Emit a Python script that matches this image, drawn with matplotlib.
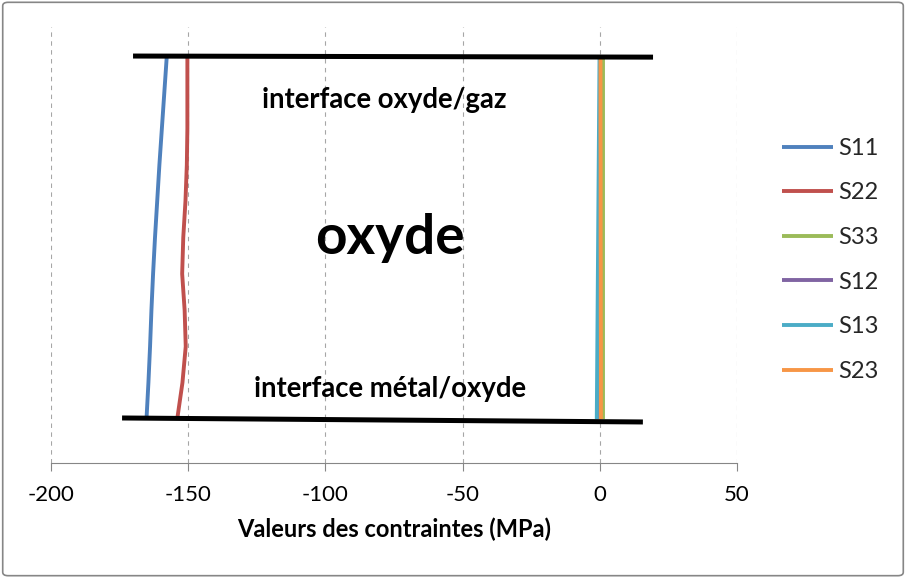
import matplotlib
matplotlib.use("Agg")
import matplotlib.pyplot as plt
from matplotlib.patches import FancyBboxPatch

# depth positions through the oxide layer (0 = metal side, 10 = gas side)
depth = [0, 1, 2, 3, 4, 5, 6, 7, 8, 9, 10]

s11 = [-165.2, -164.5, -163.9, -163.4, -162.8, -162.1, -161.3, -160.5, -159.6, -158.7, -157.8]
s22 = [-154.0, -152.1, -150.9, -151.3, -152.2, -151.8, -151.0, -150.5, -150.3, -150.3, -150.3]
s33 = [1.3, 1.3, 1.3, 1.3, 1.3, 1.3, 1.3, 1.3, 1.3, 1.3, 1.3]
s12 = [0.0, 0.0, 0.0, 0.0, 0.0, 0.0, 0.0, 0.0, 0.0, 0.0, 0.0]
s13 = [-1.1, -1.0, -0.9, -0.8, -0.7, -0.6, -0.5, -0.4, -0.3, -0.2, -0.1]
s23 = [0.4, 0.4, 0.4, 0.35, 0.35, 0.3, 0.3, 0.3, 0.25, 0.25, 0.25]

series = [("S11", s11, "#4F81BD"), ("S22", s22, "#C0504D"), ("S33", s33, "#9BBB59"),
          ("S12", s12, "#8064A2"), ("S13", s13, "#4BACC6"), ("S23", s23, "#F79646")]

# interface markers (x ends, y ends)
gas_x = [-170.1, 19.4]
gas_y = [10.0, 9.97]
metal_x = [-174.1, 15.7]
metal_y = [0.03, -0.08]

xticks = [-200, -150, -100, -50, 0, 50]

fig = plt.figure(figsize=(9.06, 5.78), dpi=100)
ax = fig.add_axes([51 / 906, 115 / 578, 686 / 906, 436 / 578])

for name, vals, col in series:
    ax.plot(vals, depth, color=col, lw=2.8, label=name, solid_capstyle="butt",
            solid_joinstyle="round")

ax.plot(gas_x, gas_y, color="black", lw=3.6, solid_capstyle="butt", zorder=5)
ax.plot(metal_x, metal_y, color="black", lw=3.6, solid_capstyle="butt", zorder=5)

ax.set_xlim(-200, 50)
ax.set_ylim(-1.21, 10.8)
ax.set_xticks(xticks)
ax.set_xticklabels([str(t) for t in xticks], fontsize=16, family="Lato", color="#000000")
ax.set_yticks([])
ax.grid(axis="x", ls=(0, (4, 4)), color="#a6a6a6", lw=0.8)
ax.set_axisbelow(True)
for side in ["left", "right", "top"]:
    ax.spines[side].set_visible(False)
ax.spines["bottom"].set_color("#868686")
ax.tick_params(axis="x", length=6, color="#868686", pad=10)

ax.set_xlabel("Valeurs des contraintes (MPa)", fontsize=17, family="Lato",
              fontweight="bold", labelpad=9)

ax.text(-78.6, 8.79, "interface oxyde/gaz", fontsize=19.8, family="Lato",
        fontweight="bold", ha="center", va="center")
ax.text(-76.5, 5.0, "oxyde", fontsize=39.5, family="Lato", fontweight="bold",
        ha="center", va="center")
ax.text(-76.5, 0.82, "interface métal/oxyde", fontsize=19.8, family="Lato",
        fontweight="bold", ha="center", va="center")

leg = ax.legend(loc="center left", bbox_to_anchor=(1.052, 0.466), frameon=False,
                prop={"family": "Lato", "size": 17}, handlelength=2.16,
                labelspacing=1.0, handletextpad=0.2, borderaxespad=0)
for t in leg.get_texts():
    t.set_color("#262626")

# chart border
fig.patches.append(FancyBboxPatch((0.003, 0.004), 0.994, 0.992,
                                  boxstyle="round,pad=0,rounding_size=0.006",
                                  transform=fig.transFigure, fill=False,
                                  edgecolor="#868686", lw=1.2))

fig.savefig("out.png", dpi=100)
